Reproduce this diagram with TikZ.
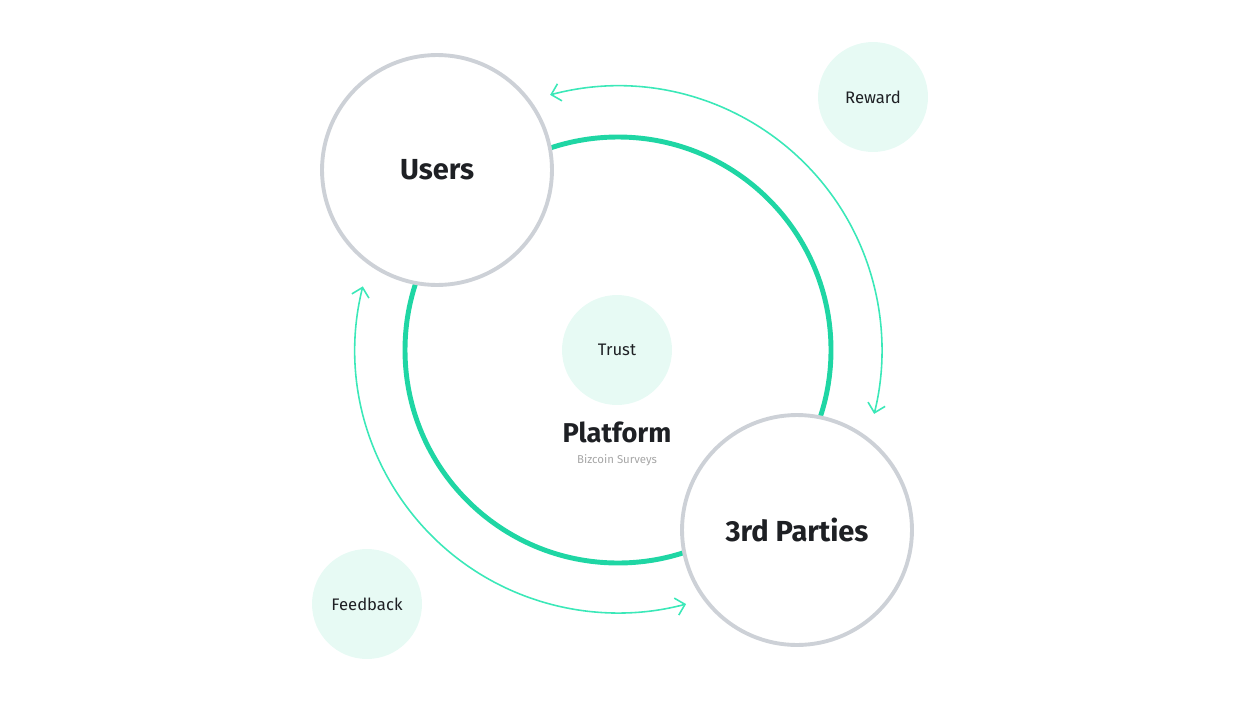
\documentclass[tikz,border=0pt]{standalone}
\usepackage{fontspec}
\setmainfont{Fira Sans}
\usetikzlibrary{arrows.meta,positioning}
\definecolor{ringgreen}{HTML}{1FD6A4}
\definecolor{arcgreen}{HTML}{3BE8B8}
\definecolor{softgreen}{HTML}{E7FAF4}
\definecolor{rimgray}{HTML}{CDD1D7}
\definecolor{textdark}{HTML}{1E2024}
\begin{document}
\begin{tikzpicture}
[x=0.02cm,y=-0.02cm,
party/.style={draw=rimgray,line width=2.2pt,fill=white,circle,minimum size=4.6cm,inner sep=0pt,font=\fontsize{16.5}{18}\selectfont\bfseries,text=textdark},
tag/.style={circle,fill=softgreen,minimum size=2.2cm,inner sep=0pt,font=\fontsize{9.5}{11}\selectfont,text=textdark},
loop/.style={arcgreen,line width=0.9pt,{Straight Barb[length=5pt,width=10pt]}-{Straight Barb[length=5pt,width=10pt]}}]
\useasboundingbox (0,0) rectangle (1240,700);
%% Platform ring
\coordinate (hub) at (618,350);
\draw[ringgreen,line width=2.8pt] (hub) circle (213);
%% Flows
\draw[loop] (hub) ++(-104.9:264) arc[start angle=-104.9,end angle=14,radius=264];
\draw[loop] (hub) ++(-166:263) arc[start angle=-166,end angle=-285,radius=263];
%% Parties
\node[party] (users) at (437,170) {Users};
\node[party] (third) at (797,530) {3rd Parties};
%% Tags
\node[tag] (trust) at (617,350) {Trust};
\node[tag] (reward) at (873,97) {Reward};
\node[tag] (feedback) at (367,604) {Feedback};
\node[font=\fontsize{15.5}{17}\selectfont\bfseries,text=textdark] (platform) at (617,432) {Platform};
\node[font=\fontsize{6.5}{8}\selectfont,text=gray!70,below=0pt of platform] (survey) {Bizcoin Surveys};
\end{tikzpicture}
\end{document}
